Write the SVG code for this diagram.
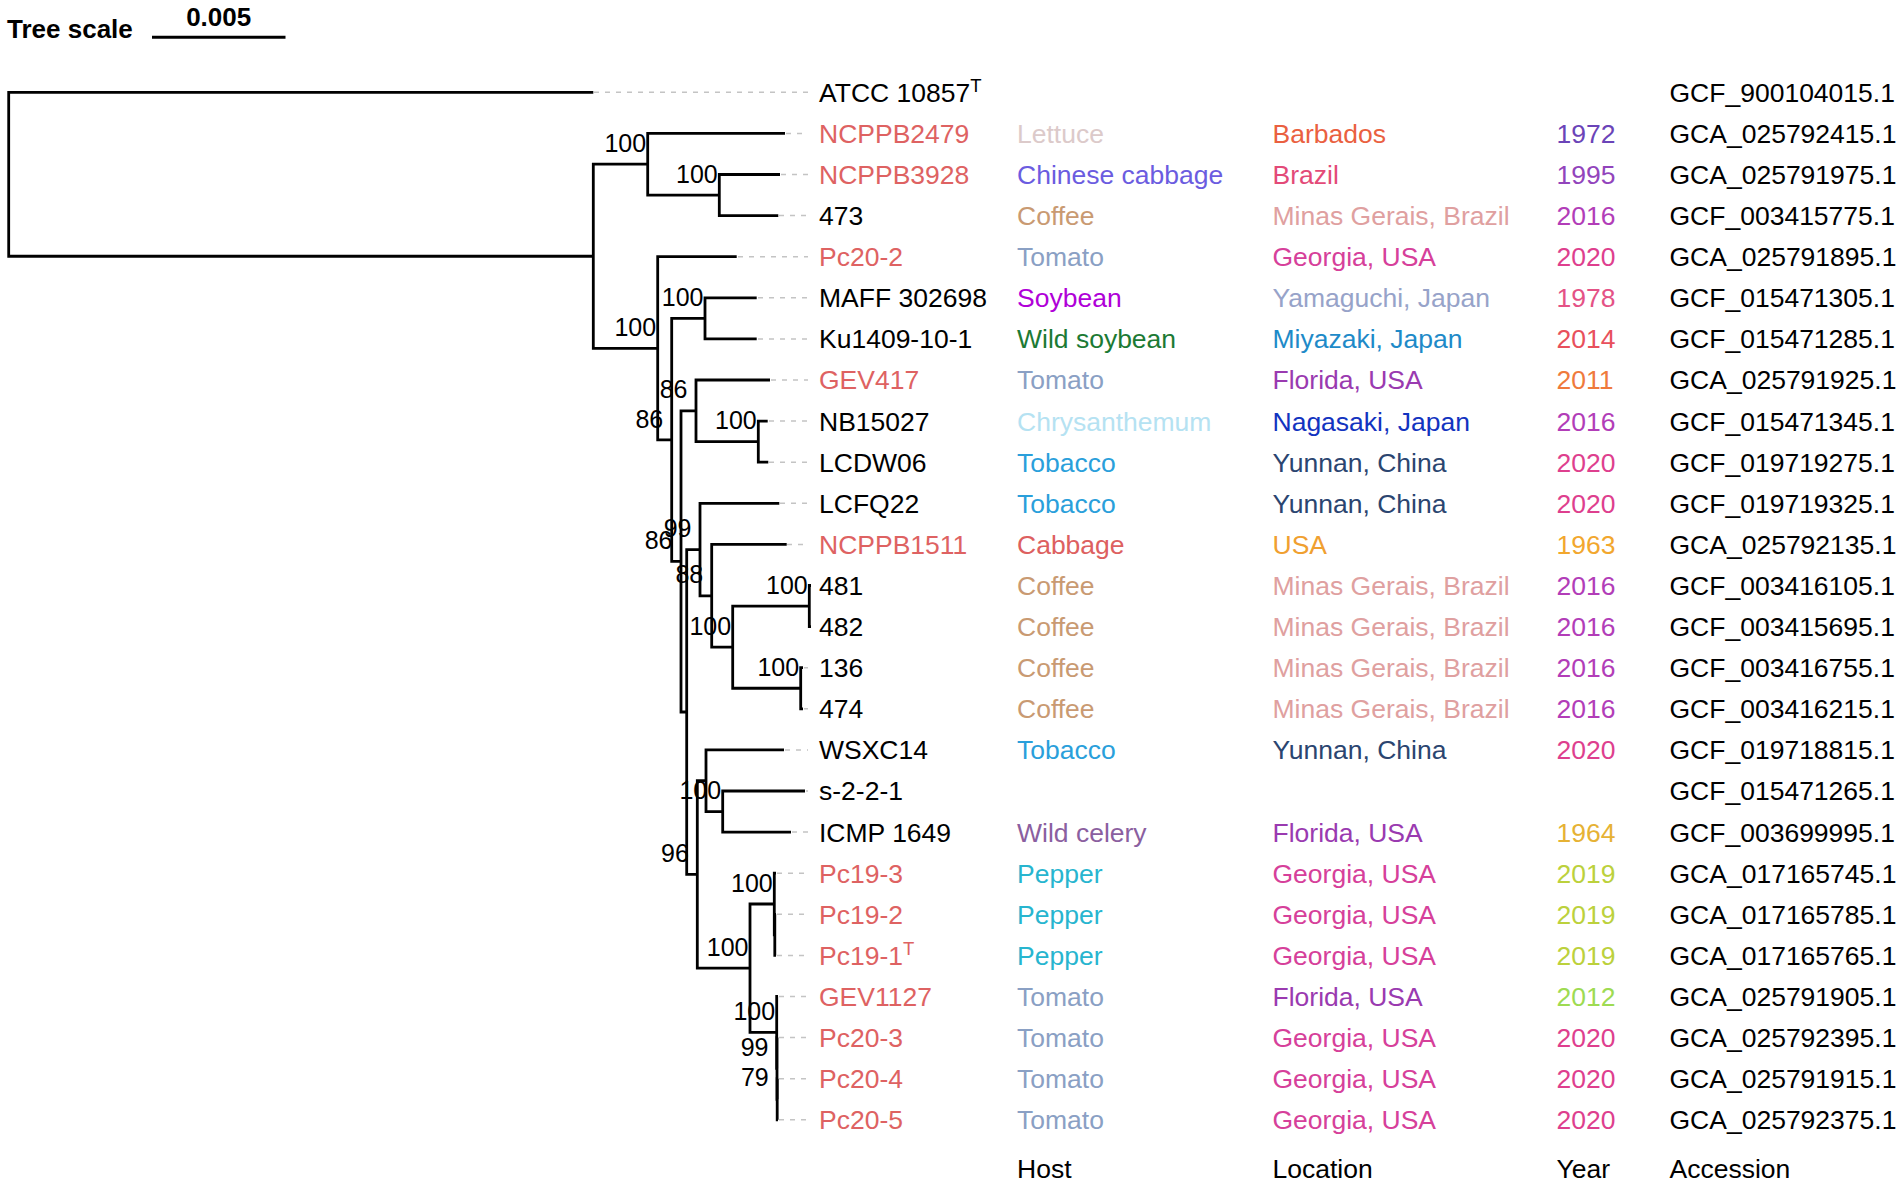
<svg xmlns="http://www.w3.org/2000/svg" width="1902" height="1186" viewBox="0 0 1902 1186">
<style>
text{font-family:"Liberation Sans",Arial,sans-serif;font-size:26.5px;fill:#000}
.b{font-weight:bold;font-size:26px}
.bs{font-size:25px;text-anchor:middle}
.br{fill:none;stroke:#000;stroke-width:2.8;stroke-linejoin:miter}
.dl{fill:none;stroke:#c4c4c4;stroke-width:1.5;stroke-dasharray:5 6}
.red{fill:#de6262}
.h-let{fill:#dccaca}.h-cc{fill:#6b5ce0}.h-cof{fill:#c99a72}.h-tom{fill:#8aa0c4}.h-soy{fill:#b000d8}
.h-ws{fill:#1c7a34}.h-chr{fill:#b5e2f2}.h-tob{fill:#2a9fdb}.h-cab{fill:#dd6060}.h-wc{fill:#8b5fa0}.h-pep{fill:#27b5cf}
.l-bar{fill:#ea6040}.l-bra{fill:#e34a78}.l-mg{fill:#dfa0a0}.l-ga{fill:#d6409a}.l-yam{fill:#97a3c9}.l-miy{fill:#1e8ac8}
.l-fl{fill:#9a3ab0}.l-nag{fill:#1233c0}.l-yun{fill:#2b4570}.l-usa{fill:#f0a030}
.y1972{fill:#6b44b8}.y1995{fill:#9244bc}.y2016{fill:#b23db8}.y2020{fill:#de3f8e}.y1978{fill:#e45286}.y2014{fill:#e8505c}
.y2011{fill:#ef7a3c}.y1963{fill:#f2a72e}.y1964{fill:#e6b234}.y2019{fill:#bcd13c}.y2012{fill:#9edb52}
</style>
<rect width="1902" height="1186" fill="#fff"/>
<g id="scale">
<text class="b" x="7" y="37.5">Tree scale</text>
<text class="b" x="218.7" y="26" text-anchor="middle">0.005</text>
<line x1="152" y1="37.3" x2="285.5" y2="37.3" stroke="#000" stroke-width="3"/>
</g>
<g id="connectors">
<path class="br" d="M593.3 92.3H8.7V256.25H593.3"/>
<path class="br" d="M647.7 164.2H593.3V348.3H657.7"/>
<path class="br" d="M785 133.4H647.7V195.05H719.3"/>
<path class="br" d="M780 174.5H719.3V215.6H778.3"/>
<path class="br" d="M736.7 256.7H657.7V439.9H671.7"/>
<path class="br" d="M705 318.35H671.7V561.4H681"/>
<path class="br" d="M756.7 297.8H705V338.9H756.7"/>
<path class="br" d="M696 410.8H681V712H686.7"/>
<path class="br" d="M770 380H696V441.65H758.3"/>
<path class="br" d="M767.7 421.1H758.3V462.2H768.3"/>
<path class="br" d="M700 549.55H686.7V874.45H697.3"/>
<path class="br" d="M779.3 503.3H700V595.8H711.7"/>
<path class="br" d="M786.7 544.4H711.7V647.15H732.7"/>
<path class="br" d="M809.3 606.05H732.7V688.25H800.7"/>
<path class="br" d="M811 585.5H809.3V626.6H811"/>
<path class="br" d="M803 667.7H800.7V708.8H803"/>
<path class="br" d="M706 780.7H697.3V968.2H750"/>
<path class="br" d="M784 749.9H706V811.55H722.7"/>
<path class="br" d="M805 791H722.7V832.1H791"/>
<path class="br" d="M774.3 904H750V1032.45H776.7"/>
<path class="br" d="M776 873.2H774.3V934.85H774.8"/>
<path class="br" d="M776 914.3H774.8V955.4H776"/>
<path class="br" d="M778 996.5H776.7V1068.4H777"/>
<path class="br" d="M778 1037.6H777V1099.25H777.2"/>
<path class="br" d="M778 1078.7H777.2V1119.8H778"/>
<path class="dl" d="M594 92.3H808M786 133.4H808M781 174.5H808M779 215.6H808M738 256.7H808M758 297.8H808M758 338.9H808M771 380H808M769 421.1H808M769 462.2H808M780 503.3H808M787 544.4H808M804 667.7H808M804 708.8H808M785 749.9H808M806 791H808M792 832.1H808M777 873.2H808M777 914.3H808M777 955.4H808M779 996.5H808M779 1037.6H808M779 1078.7H808M779 1119.8H808"/>
</g>
<g id="bootstrap">
<text class="bs" x="625.3" y="151.8">100</text>
<text class="bs" x="696.9" y="182.65">100</text>
<text class="bs" x="635.3" y="335.9">100</text>
<text class="bs" x="682.6" y="305.95">100</text>
<text class="bs" x="649.3" y="427.5">86</text>
<text class="bs" x="673.6" y="398.4">86</text>
<text class="bs" x="735.9" y="429.25">100</text>
<text class="bs" x="658.6" y="549">86</text>
<text class="bs" x="677.6" y="537.15">99</text>
<text class="bs" x="689.3" y="583.4">88</text>
<text class="bs" x="710.3" y="634.75">100</text>
<text class="bs" x="786.9" y="593.65">100</text>
<text class="bs" x="778.3" y="675.85">100</text>
<text class="bs" x="700.3" y="799.15">100</text>
<text class="bs" x="674.9" y="862.05">96</text>
<text class="bs" x="751.9" y="891.6">100</text>
<text class="bs" x="727.6" y="955.8">100</text>
<text class="bs" x="754.3" y="1020.05">100</text>
<text class="bs" x="754.6" y="1056">99</text>
<text class="bs" x="754.8" y="1086">79</text>
</g>
<g id="leaf-ATCC10857" transform="translate(0,92.3)"><text x="819" y="9.4">ATCC 10857<tspan dy="-10" font-size="18.5">T</tspan></text><text x="1669.5" y="9.4">GCF_900104015.1</text></g>
<g id="leaf-NCPPB2479" transform="translate(0,133.4)"><text class="red" x="819" y="9.4">NCPPB2479</text><text class="h-let" x="1017" y="9.4">Lettuce</text><text class="l-bar" x="1272.5" y="9.4">Barbados</text><text class="y1972" x="1556.5" y="9.4">1972</text><text x="1669.5" y="9.4">GCA_025792415.1</text></g>
<g id="leaf-NCPPB3928" transform="translate(0,174.5)"><text class="red" x="819" y="9.4">NCPPB3928</text><text class="h-cc" x="1017" y="9.4">Chinese cabbage</text><text class="l-bra" x="1272.5" y="9.4">Brazil</text><text class="y1995" x="1556.5" y="9.4">1995</text><text x="1669.5" y="9.4">GCA_025791975.1</text></g>
<g id="leaf-473" transform="translate(0,215.6)"><text x="819" y="9.4">473</text><text class="h-cof" x="1017" y="9.4">Coffee</text><text class="l-mg" x="1272.5" y="9.4">Minas Gerais, Brazil</text><text class="y2016" x="1556.5" y="9.4">2016</text><text x="1669.5" y="9.4">GCF_003415775.1</text></g>
<g id="leaf-Pc20-2" transform="translate(0,256.7)"><text class="red" x="819" y="9.4">Pc20-2</text><text class="h-tom" x="1017" y="9.4">Tomato</text><text class="l-ga" x="1272.5" y="9.4">Georgia, USA</text><text class="y2020" x="1556.5" y="9.4">2020</text><text x="1669.5" y="9.4">GCA_025791895.1</text></g>
<g id="leaf-MAFF302698" transform="translate(0,297.8)"><text x="819" y="9.4">MAFF 302698</text><text class="h-soy" x="1017" y="9.4">Soybean</text><text class="l-yam" x="1272.5" y="9.4">Yamaguchi, Japan</text><text class="y1978" x="1556.5" y="9.4">1978</text><text x="1669.5" y="9.4">GCF_015471305.1</text></g>
<g id="leaf-Ku1409-10-1" transform="translate(0,338.9)"><text x="819" y="9.4">Ku1409-10-1</text><text class="h-ws" x="1017" y="9.4">Wild soybean</text><text class="l-miy" x="1272.5" y="9.4">Miyazaki, Japan</text><text class="y2014" x="1556.5" y="9.4">2014</text><text x="1669.5" y="9.4">GCF_015471285.1</text></g>
<g id="leaf-GEV417" transform="translate(0,380)"><text class="red" x="819" y="9.4">GEV417</text><text class="h-tom" x="1017" y="9.4">Tomato</text><text class="l-fl" x="1272.5" y="9.4">Florida, USA</text><text class="y2011" x="1556.5" y="9.4">2011</text><text x="1669.5" y="9.4">GCA_025791925.1</text></g>
<g id="leaf-NB15027" transform="translate(0,421.1)"><text x="819" y="9.4">NB15027</text><text class="h-chr" x="1017" y="9.4">Chrysanthemum</text><text class="l-nag" x="1272.5" y="9.4">Nagasaki, Japan</text><text class="y2016" x="1556.5" y="9.4">2016</text><text x="1669.5" y="9.4">GCF_015471345.1</text></g>
<g id="leaf-LCDW06" transform="translate(0,462.2)"><text x="819" y="9.4">LCDW06</text><text class="h-tob" x="1017" y="9.4">Tobacco</text><text class="l-yun" x="1272.5" y="9.4">Yunnan, China</text><text class="y2020" x="1556.5" y="9.4">2020</text><text x="1669.5" y="9.4">GCF_019719275.1</text></g>
<g id="leaf-LCFQ22" transform="translate(0,503.3)"><text x="819" y="9.4">LCFQ22</text><text class="h-tob" x="1017" y="9.4">Tobacco</text><text class="l-yun" x="1272.5" y="9.4">Yunnan, China</text><text class="y2020" x="1556.5" y="9.4">2020</text><text x="1669.5" y="9.4">GCF_019719325.1</text></g>
<g id="leaf-NCPPB1511" transform="translate(0,544.4)"><text class="red" x="819" y="9.4">NCPPB1511</text><text class="h-cab" x="1017" y="9.4">Cabbage</text><text class="l-usa" x="1272.5" y="9.4">USA</text><text class="y1963" x="1556.5" y="9.4">1963</text><text x="1669.5" y="9.4">GCA_025792135.1</text></g>
<g id="leaf-481" transform="translate(0,585.5)"><text x="819" y="9.4">481</text><text class="h-cof" x="1017" y="9.4">Coffee</text><text class="l-mg" x="1272.5" y="9.4">Minas Gerais, Brazil</text><text class="y2016" x="1556.5" y="9.4">2016</text><text x="1669.5" y="9.4">GCF_003416105.1</text></g>
<g id="leaf-482" transform="translate(0,626.6)"><text x="819" y="9.4">482</text><text class="h-cof" x="1017" y="9.4">Coffee</text><text class="l-mg" x="1272.5" y="9.4">Minas Gerais, Brazil</text><text class="y2016" x="1556.5" y="9.4">2016</text><text x="1669.5" y="9.4">GCF_003415695.1</text></g>
<g id="leaf-136" transform="translate(0,667.7)"><text x="819" y="9.4">136</text><text class="h-cof" x="1017" y="9.4">Coffee</text><text class="l-mg" x="1272.5" y="9.4">Minas Gerais, Brazil</text><text class="y2016" x="1556.5" y="9.4">2016</text><text x="1669.5" y="9.4">GCF_003416755.1</text></g>
<g id="leaf-474" transform="translate(0,708.8)"><text x="819" y="9.4">474</text><text class="h-cof" x="1017" y="9.4">Coffee</text><text class="l-mg" x="1272.5" y="9.4">Minas Gerais, Brazil</text><text class="y2016" x="1556.5" y="9.4">2016</text><text x="1669.5" y="9.4">GCF_003416215.1</text></g>
<g id="leaf-WSXC14" transform="translate(0,749.9)"><text x="819" y="9.4">WSXC14</text><text class="h-tob" x="1017" y="9.4">Tobacco</text><text class="l-yun" x="1272.5" y="9.4">Yunnan, China</text><text class="y2020" x="1556.5" y="9.4">2020</text><text x="1669.5" y="9.4">GCF_019718815.1</text></g>
<g id="leaf-s-2-2-1" transform="translate(0,791)"><text x="819" y="9.4">s-2-2-1</text><text x="1669.5" y="9.4">GCF_015471265.1</text></g>
<g id="leaf-ICMP1649" transform="translate(0,832.1)"><text x="819" y="9.4">ICMP 1649</text><text class="h-wc" x="1017" y="9.4">Wild celery</text><text class="l-fl" x="1272.5" y="9.4">Florida, USA</text><text class="y1964" x="1556.5" y="9.4">1964</text><text x="1669.5" y="9.4">GCF_003699995.1</text></g>
<g id="leaf-Pc19-3" transform="translate(0,873.2)"><text class="red" x="819" y="9.4">Pc19-3</text><text class="h-pep" x="1017" y="9.4">Pepper</text><text class="l-ga" x="1272.5" y="9.4">Georgia, USA</text><text class="y2019" x="1556.5" y="9.4">2019</text><text x="1669.5" y="9.4">GCA_017165745.1</text></g>
<g id="leaf-Pc19-2" transform="translate(0,914.3)"><text class="red" x="819" y="9.4">Pc19-2</text><text class="h-pep" x="1017" y="9.4">Pepper</text><text class="l-ga" x="1272.5" y="9.4">Georgia, USA</text><text class="y2019" x="1556.5" y="9.4">2019</text><text x="1669.5" y="9.4">GCA_017165785.1</text></g>
<g id="leaf-Pc19-1" transform="translate(0,955.4)"><text class="red" x="819" y="9.4">Pc19-1<tspan dy="-10" font-size="18.5">T</tspan></text><text class="h-pep" x="1017" y="9.4">Pepper</text><text class="l-ga" x="1272.5" y="9.4">Georgia, USA</text><text class="y2019" x="1556.5" y="9.4">2019</text><text x="1669.5" y="9.4">GCA_017165765.1</text></g>
<g id="leaf-GEV1127" transform="translate(0,996.5)"><text class="red" x="819" y="9.4">GEV1127</text><text class="h-tom" x="1017" y="9.4">Tomato</text><text class="l-fl" x="1272.5" y="9.4">Florida, USA</text><text class="y2012" x="1556.5" y="9.4">2012</text><text x="1669.5" y="9.4">GCA_025791905.1</text></g>
<g id="leaf-Pc20-3" transform="translate(0,1037.6)"><text class="red" x="819" y="9.4">Pc20-3</text><text class="h-tom" x="1017" y="9.4">Tomato</text><text class="l-ga" x="1272.5" y="9.4">Georgia, USA</text><text class="y2020" x="1556.5" y="9.4">2020</text><text x="1669.5" y="9.4">GCA_025792395.1</text></g>
<g id="leaf-Pc20-4" transform="translate(0,1078.7)"><text class="red" x="819" y="9.4">Pc20-4</text><text class="h-tom" x="1017" y="9.4">Tomato</text><text class="l-ga" x="1272.5" y="9.4">Georgia, USA</text><text class="y2020" x="1556.5" y="9.4">2020</text><text x="1669.5" y="9.4">GCA_025791915.1</text></g>
<g id="leaf-Pc20-5" transform="translate(0,1119.8)"><text class="red" x="819" y="9.4">Pc20-5</text><text class="h-tom" x="1017" y="9.4">Tomato</text><text class="l-ga" x="1272.5" y="9.4">Georgia, USA</text><text class="y2020" x="1556.5" y="9.4">2020</text><text x="1669.5" y="9.4">GCA_025792375.1</text></g>
<g id="headers">
<text x="1017" y="1177.5">Host</text>
<text x="1272.5" y="1177.5">Location</text>
<text x="1556.5" y="1177.5">Year</text>
<text x="1669.5" y="1177.5">Accession</text>
</g>
</svg>
